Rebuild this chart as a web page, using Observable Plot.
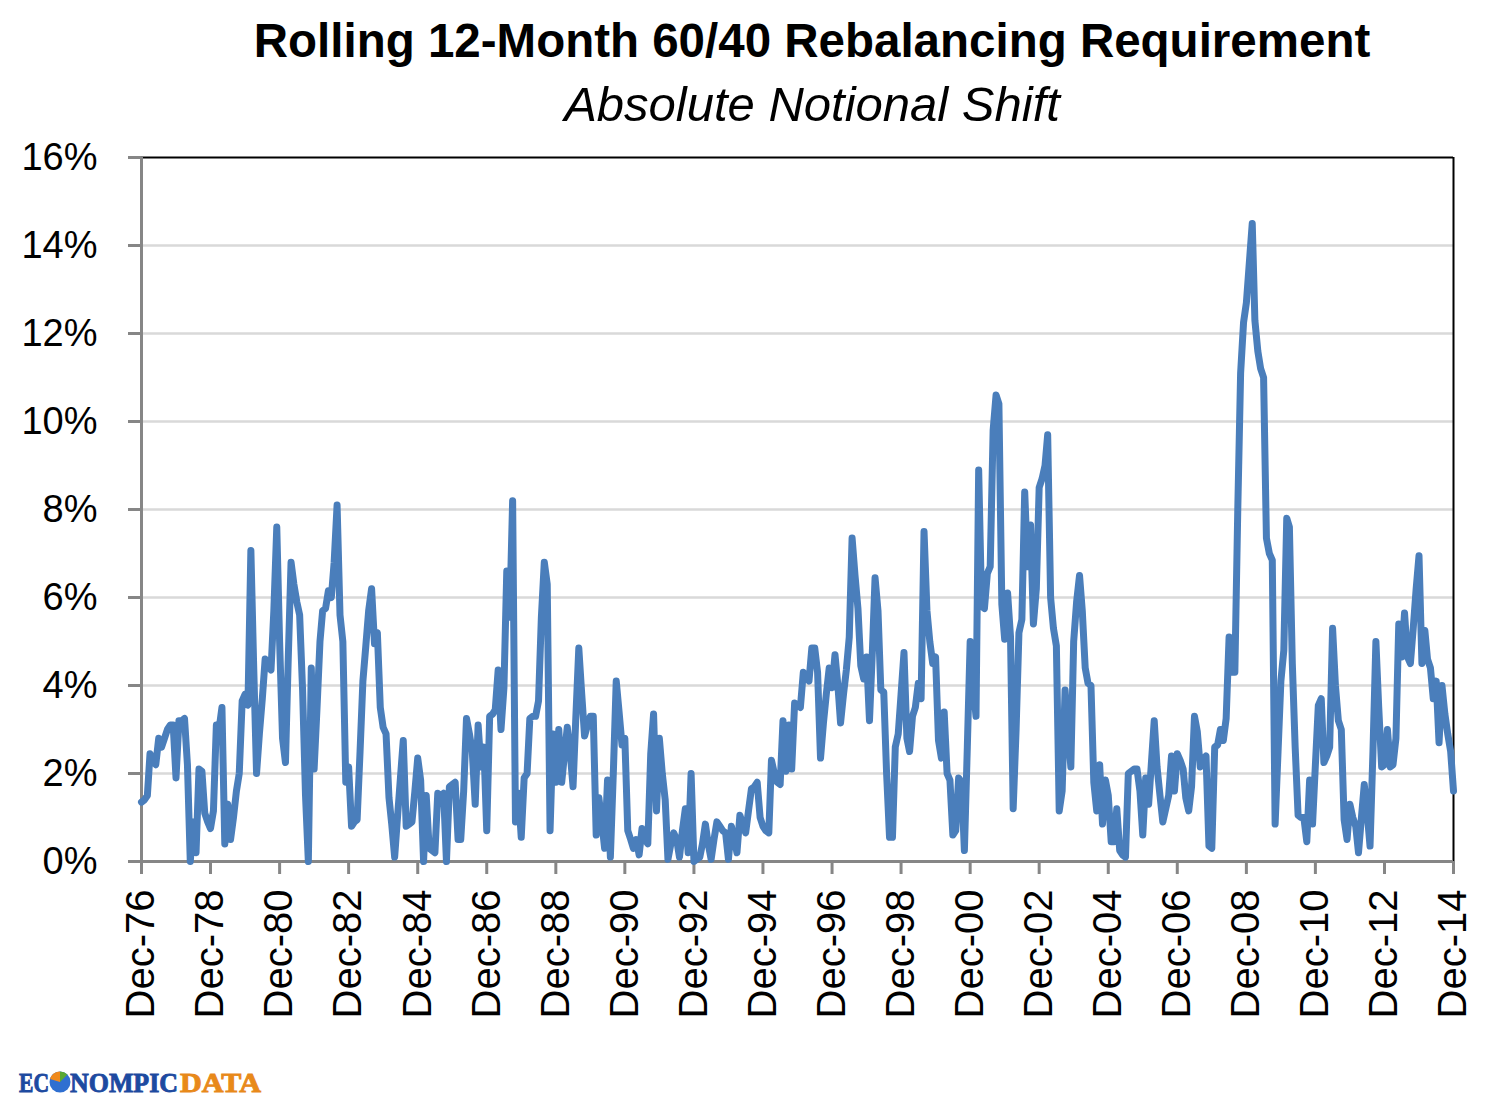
<!DOCTYPE html>
<html><head><meta charset="utf-8">
<script src="https://cdn.jsdelivr.net/npm/d3@7"></script>
<script src="https://cdn.jsdelivr.net/npm/@observablehq/plot@0.6"></script>
<style>
html,body{margin:0;padding:0;background:#fff;}
#page{position:relative;width:1496px;height:1114px;overflow:hidden;background:#fff;font-family:"Liberation Sans",Arial,sans-serif;}
#title{position:absolute;left:812px;top:17px;transform:translateX(-50%);white-space:nowrap;font-weight:bold;font-size:47.5px;line-height:47.5px;color:#000;}
#subtitle{position:absolute;left:812px;top:80px;transform:translateX(-50%);white-space:nowrap;font-style:italic;font-size:49px;line-height:49px;color:#000;}
#chart{position:absolute;left:0;top:140px;}
#logo{position:absolute;left:0;top:1060px;}
</style></head><body>
<div id="page">
  <div id="title">Rolling 12-Month 60/40 Rebalancing Requirement</div>
  <div id="subtitle">Absolute Notional Shift</div>
  <div id="chart"></div>
  <svg id="logo" width="300" height="50" viewBox="0 0 300 50">
    <g font-family="'Liberation Serif', serif" font-weight="bold" font-size="27" stroke-width="0.9">
      <text x="19" y="32" fill="#1d4aa0" stroke="#1d4aa0" textLength="30" lengthAdjust="spacingAndGlyphs">EC</text>
      <circle cx="60" cy="22" r="10.5" fill="#2f6fd1"/>
      <path d="M60 22 L60 11.5 A10.5 10.5 0 0 0 50 19 Z" fill="#f08a1c"/>
      <path d="M60 22 L67.4 14.6 A10.5 10.5 0 0 0 60 11.5 Z" fill="#5aa832"/>
      <text x="70" y="32" fill="#1d4aa0" stroke="#1d4aa0" textLength="108" lengthAdjust="spacingAndGlyphs">NOMPIC</text>
      <text x="180" y="32" fill="#e8891a" stroke="#e8891a" textLength="81" lengthAdjust="spacingAndGlyphs">DATA</text>
    </g>
  </svg>
</div>
<script>
// Monthly series, Dec-1976 .. Dec-2014 (percent)
const firstMonth = {year: 1976, month: 11}; // December 1976 (0-based month)
const shiftPct = [
  1.35, // Dec-76
  1.4, 1.5, 2.45, 2.3, 2.2, 2.8, 2.6, 2.8, 3.0, 3.1, 3.1, 1.9,          // 1977
  3.2, 3.2, 3.25, 2.2, 0.0, 0.9, 0.2, 2.1, 2.05, 1.1, 0.9, 0.75,        // 1978
  1.15, 3.1, 3.0, 3.5, 0.4, 1.3, 0.5, 1.0, 1.6, 2.0, 3.65, 3.8,        // 1979
  3.55, 7.07, 4.5, 2.0, 2.9, 3.7, 4.6, 4.45, 4.35, 5.7, 7.6, 5.0,      // 1980
  2.8, 2.25, 4.5, 6.8, 6.3, 5.9, 5.6, 3.9, 1.5, 0.0, 4.4, 2.1,         // 1981
  3.5, 5.0, 5.7, 5.75, 6.15, 6.0, 6.8, 8.1, 5.6, 5.0, 1.8, 2.15,       // 1982
  0.8, 0.9, 0.95, 2.5, 4.1, 4.9, 5.7, 6.2, 4.95, 5.2, 3.5, 3.05,       // 1983
  2.9, 1.45, 0.85, 0.1, 1.0, 1.9, 2.75, 0.8, 0.85, 0.9, 1.6, 2.35,     // 1984
  1.85, 0.0, 1.5, 0.3, 0.25, 0.2, 1.55, 1.5, 1.55, 0.0, 1.7, 1.75,     // 1985
  1.8, 0.5, 0.5, 1.6, 3.25, 2.9, 2.5, 1.3, 3.1, 2.15, 2.6, 0.7,        // 1986
  3.3, 3.35, 3.45, 4.35, 3.0, 3.95, 6.6, 5.55, 8.2, 0.9, 1.55, 0.55,   // 1987
  1.9, 2.0, 3.25, 3.3, 3.3, 3.65, 5.55, 6.8, 6.3, 0.7, 2.9, 1.8,       // 1988
  3.0, 1.8, 2.4, 3.05, 2.5, 1.7, 3.3, 4.85, 3.8, 2.85, 3.1, 3.3,       // 1989
  3.3, 0.6, 1.45, 0.9, 0.3, 1.85, 0.1, 2.0, 4.1, 3.4, 2.65, 2.8,       // 1990
  0.7, 0.5, 0.3, 0.5, 0.15, 0.75, 0.5, 0.4, 2.45, 3.35, 1.15, 2.8,     // 1991
  2.0, 1.4, 0.05, 0.4, 0.65, 0.5, 0.1, 0.7, 1.2, 0.2, 2.0, 0.0,        // 1992
  0.05, 0.1, 0.4, 0.85, 0.4, 0.05, 0.5, 0.9, 0.8, 0.7, 0.65, 0.05,     // 1993
  0.8, 0.5, 0.2, 1.05, 0.85, 0.65, 1.15, 1.65, 1.7, 1.8, 1.0, 0.8,     // 1994
  0.7, 0.65, 2.3, 2.0, 1.8, 1.75, 3.2, 2.05, 3.1, 2.1, 3.6, 3.55,      // 1995
  3.5, 4.3, 4.2, 4.1, 4.85, 4.85, 4.3, 2.35, 3.15, 3.8, 4.4, 3.95,     // 1996
  4.7, 4.0, 3.15, 3.8, 4.35, 5.1, 7.35, 6.5, 5.75, 4.45, 4.15, 4.65,   // 1997
  3.2, 4.8, 6.45, 5.7, 3.9, 3.85, 2.0, 0.55, 0.55, 2.6, 2.9, 3.8,      // 1998
  4.75, 2.8, 2.5, 3.3, 3.5, 4.05, 3.7, 7.5, 5.7, 5.0, 4.5, 4.65,       // 1999
  2.75, 2.35, 3.4, 2.0, 1.85, 0.6, 0.7, 1.9, 1.8, 0.25, 2.6, 5.0,      // 2000
  4.0, 3.3, 8.9, 5.8, 5.75, 6.55, 6.7, 9.8, 10.6, 10.4, 5.85, 5.05,    // 2001
  6.1, 5.1, 1.2, 3.0, 5.2, 5.5, 8.4, 6.7, 7.65, 5.4, 6.2, 8.5,         // 2002
  8.7, 9.0, 9.7, 6.0, 5.3, 4.9, 1.15, 1.6, 3.9, 3.0, 2.15, 5.0,        // 2003
  5.9, 6.5, 5.7, 4.4, 4.05, 4.0, 1.8, 1.15, 2.2, 0.85, 1.85, 1.5,      // 2004
  0.45, 0.45, 1.2, 0.25, 0.15, 0.1, 2.0, 2.05, 2.1, 2.1, 1.6, 0.6,     // 2005
  1.9, 1.3, 2.2, 3.2, 2.15, 1.5, 0.9, 1.2, 1.5, 2.4, 1.6, 2.45,        // 2006
  2.3, 2.1, 1.45, 1.15, 1.7, 3.3, 2.95, 2.15, 2.3, 2.4, 0.35, 0.3,     // 2007
  2.6, 2.65, 3.0, 2.75, 3.25, 5.1, 4.3, 4.3, 8.0, 11.1, 12.25, 12.7,   // 2008
  13.6, 14.5, 12.3, 11.6, 11.2, 11.0, 7.35, 7.0, 6.85, 0.85, 2.5, 4.1, // 2009
  4.8, 7.8, 7.6, 4.5, 2.6, 1.05, 1.0, 1.0, 0.45, 1.85, 0.85, 2.2,      // 2010
  3.55, 3.7, 2.25, 2.4, 2.6, 5.3, 4.0, 3.2, 3.0, 0.95, 0.5, 1.3,       // 2011
  1.0, 0.8, 0.2, 1.0, 1.75, 1.1, 0.35, 2.5, 5.0, 3.5, 2.15, 2.2,       // 2012
  3.0, 2.15, 2.2, 2.8, 5.4, 4.65, 5.65, 4.65, 4.5, 5.3, 6.2, 6.95,     // 2013
  4.5, 5.25, 4.6, 4.4, 3.7, 4.1, 2.7, 4.0, 3.35, 2.9, 2.5, 1.6         // 2014
];
const yTicks = [0, 2, 4, 6, 8, 10, 12, 14, 16];
const gridValues = [2, 4, 6, 8, 10, 12, 14];
const xTickStepMonths = 24;

const dates = shiftPct.map((_, i) => new Date(Date.UTC(firstMonth.year, firstMonth.month + i, 1)));
const data = shiftPct.map((v, i) => ({date: dates[i], value: v}));
const xTicks = dates.filter((d, i) => i % xTickStepMonths === 0);
const xStart = dates[0], xEnd = dates[dates.length - 1];

const chart = Plot.plot({
  width: 1496,
  height: 900,
  marginTop: 17,
  marginBottom: 179,
  marginLeft: 141,
  marginRight: 43,
  style: {fontFamily: "'Liberation Sans', Arial, sans-serif", fontSize: "38px", color: "#000", background: "#fff", overflow: "visible"},
  x: {type: "utc", domain: [xStart, xEnd]},
  y: {domain: [0, 16]},
  marks: [
    Plot.gridY(gridValues, {stroke: "#d9d9d9", strokeOpacity: 1, strokeWidth: 2.5}),
    Plot.ruleY([16], {stroke: "#000", strokeWidth: 2}),
    Plot.ruleX([xEnd], {stroke: "#000", strokeWidth: 2}),
    Plot.axisY({ticks: yTicks, tickFormat: d => d + "%", tickSize: 13, tickPadding: 31, stroke: "#868686", strokeWidth: 3, fill: "#000", fontSize: 38, label: null}),
    Plot.axisX({ticks: xTicks, tickFormat: d3.utcFormat("%b-%y"), tickRotate: -90, tickSize: 13, tickPadding: 15, stroke: "#868686", strokeWidth: 3, fill: "#000", fontSize: 40, label: null}),
    Plot.ruleX([xStart], {stroke: "#868686", strokeWidth: 3}),
    Plot.ruleY([0], {stroke: "#868686", strokeWidth: 3}),
    Plot.line(data, {x: "date", y: "value", stroke: "#4a7ebb", strokeWidth: 7, strokeLinejoin: "round", strokeLinecap: "round"})
  ]
});
document.getElementById("chart").appendChild(chart);
</script>
</body></html>
